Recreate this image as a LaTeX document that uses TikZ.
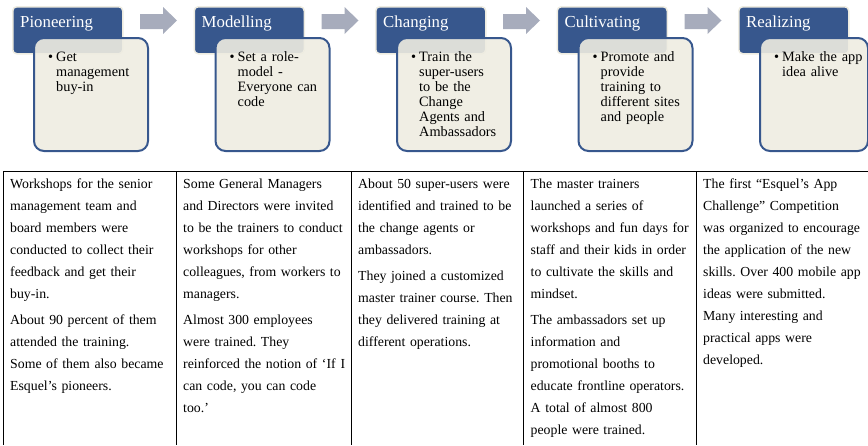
\documentclass[tikz,border=0pt]{standalone}
\usepackage{fontspec}
\setmainfont{Liberation Serif}
\definecolor{headblue}{RGB}{55,87,141}
\definecolor{cream}{RGB}{238,236,225}
\definecolor{arrowgray}{RGB}{167,172,188}
\begin{document}
\frenchspacing
\begin{tikzpicture}[x=1pt,y=-1pt,
  header/.style={draw=cream, line width=1.5pt, fill=headblue, rounded corners=4pt,
    minimum width=110pt, minimum height=47pt, anchor=north west, inner sep=0pt},
  detail/.style={draw=headblue, line width=2pt, fill=cream, fill opacity=0.9,
    rounded corners=10pt, minimum width=114pt, minimum height=113pt,
    anchor=north west, inner sep=0pt},
  title/.style={anchor=base west, inner sep=0pt, text=white,
    font=\fontsize{16.8}{19}\selectfont},
  bullets/.style={anchor=north west, inner sep=0pt, text width=120pt, align=left,
    font=\fontsize{14.3}{15}\selectfont},
  cell/.style={anchor=north west, inner sep=0pt, text width=220pt, align=left,
    font=\fontsize{13.8}{22}\selectfont},
  rule/.style={line width=0.9pt, black},
  stagearrow/.style={fill=arrowgray}
]
\path[use as bounding box] (0,0) rectangle (868,445);

% ---- stage headers (blue tabs) ----
\node[header] (h1) at (12,6) {};
\node[header] (h2) at (193.5,6) {};
\node[header] (h3) at (375,6) {};
\node[header] (h4) at (556.5,6) {};
\node[header] (h5) at (738,6) {};

% ---- detail cards ----
\node[detail] (d1) at (33,37) {};
\node[detail] (d2) at (214.5,37) {};
\node[detail] (d3) at (396,37) {};
\node[detail] (d4) at (577.5,37) {};
\node[detail, minimum width=108pt] (d5) at (759,37) {};

% ---- titles ----
\node[title] (t1) at (20,27.3) {Pioneering};
\node[title] (t2) at (201.5,27.3) {Modelling};
\node[title] (t3) at (383,27.3) {Changing};
\node[title] (t4) at (564.5,27.3) {Cultivating};
\node[title] (t5) at (746,27.3) {Realizing};

% ---- bullet texts ----
\newcommand{\bul}{\makebox[8pt][l]{•}}
\node[bullets] (b1) at (48,50.5) {\strut\bul Get\\\hspace*{8pt}management\\\hspace*{8pt}buy-in};
\node[bullets] (b2) at (229.5,50.5) {\strut\bul Set a role-\\\hspace*{8pt}model -\\\hspace*{8pt}Everyone can\\\hspace*{8pt}code};
\node[bullets] (b3) at (411,50.5) {\strut\bul Train the\\\hspace*{8pt}super-users\\\hspace*{8pt}to be the\\\hspace*{8pt}Change\\\hspace*{8pt}Agents and\\\hspace*{8pt}Ambassadors};
\node[bullets] (b4) at (592.5,50.5) {\strut\bul Promote and\\\hspace*{8pt}provide\\\hspace*{8pt}training to\\\hspace*{8pt}different sites\\\hspace*{8pt}and people};
\node[bullets] (b5) at (774,50.5) {\strut\bul Make the app\\\hspace*{8pt}idea alive};

% ---- arrows between stages ----
\foreach \dx in {0,181.5,363,544.5} {
  \fill[stagearrow, xshift=\dx pt]
    (140,14) -- (163,14) -- (163,7) -- (177,20.5) -- (163,34) -- (163,29) -- (140,29) -- cycle;
}

% ---- table grid ----
\draw[rule] (3,171) -- (868,171);
\foreach \cx in {3,176,351,523.5,696} {
  \draw[rule] (\cx,171) -- (\cx,445);
}

% ---- table cells ----
\node[cell] (c1) at (10,172.6) {\strut Workshops for the senior\\
management team and\\
board members were\\
conducted to collect their\\
feedback and get their\\
buy-in.\\[4pt]
About 90 percent of them\\
attended the training.\\
Some of them also became\\
Esquel’s pioneers.};

\node[cell] (c2) at (183,172.6) {\strut Some General Managers\\
and Directors were invited\\
to be the trainers to conduct\\
workshops for other\\
colleagues, from workers to\\
managers.\\[4pt]
Almost 300 employees\\
were trained. They\\
reinforced the notion of ‘If\hspace{5pt}I\\
can code, you can code\\
too.’};

\node[cell] (c3) at (358,172.6) {\strut About 50 super-users were\\
identified and trained to be\\
the change agents or\\
ambassadors.\\[4pt]
They joined a customized\\
master trainer course. Then\\
they delivered training at\\
different operations.};

\node[cell] (c4) at (530.5,172.6) {\strut The master trainers\\
launched a series of\\
workshops and fun days for\\
staff and their kids in order\\
to cultivate the skills and\\
mindset.\\[4pt]
The ambassadors set up\\
information and\\
promotional booths to\\
educate frontline operators.\\
A total of almost 800\\
people were trained.};

\node[cell] (c5) at (703,172.6) {\strut The first “Esquel’s App\\
Challenge” Competition\\
was organized to encourage\\
the application of the new\\
skills. Over 400 mobile app\\
ideas were submitted.\\
Many interesting and\\
practical apps were\\
developed.};
\end{tikzpicture}
\end{document}
